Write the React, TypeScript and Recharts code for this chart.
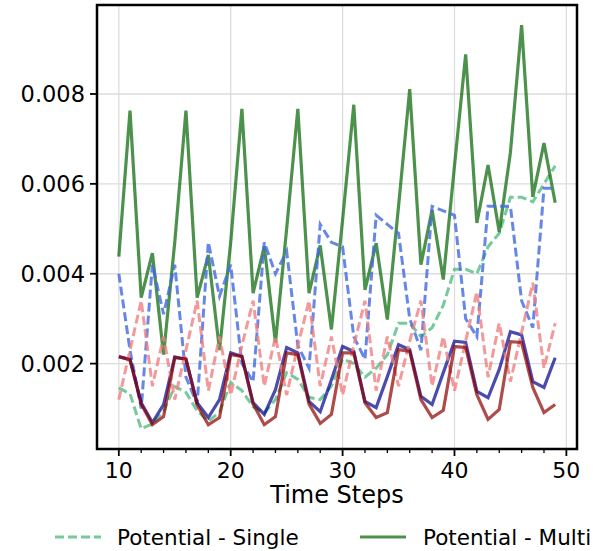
import React from "react";
import {
  LineChart,
  Line,
  XAxis,
  YAxis,
  CartesianGrid,
  ReferenceArea,
} from "recharts";

// Time steps on the x axis
const steps = [
  10, 11, 12, 13, 14, 15, 16, 17, 18, 19,
  20, 21, 22, 23, 24, 25, 26, 27, 28, 29,
  30, 31, 32, 33, 34, 35, 36, 37, 38, 39,
  40, 41, 42, 43, 44, 45, 46, 47, 48, 49,
];

// Potential - Single (green, dashed)
const potentialSingle = [
  0.00146, 0.00133, 0.00055, 0.00066, 0.00094, 0.00149, 0.00136, 0.00095, 0.00072, 0.00092,
  0.00158, 0.0014, 0.00104, 0.0009, 0.0012, 0.0018, 0.00165, 0.00125, 0.0012, 0.0015,
  0.0021, 0.002, 0.0017, 0.0019, 0.0022, 0.0029, 0.0029, 0.0026, 0.0028, 0.0033,
  0.0041, 0.0041, 0.004, 0.0046, 0.0049, 0.0057, 0.0057, 0.0056, 0.006, 0.0064,
];

// Potential - Multi (green, solid)
const potentialMulti = [
  0.00438, 0.00763, 0.00347, 0.00446, 0.0022, 0.0047, 0.00763, 0.00347, 0.00442, 0.0023,
  0.0047, 0.00767, 0.00357, 0.00461, 0.00247, 0.005, 0.00767, 0.00357, 0.00463, 0.00276,
  0.0052, 0.00776, 0.00364, 0.00468, 0.00298, 0.0055, 0.00811, 0.0042, 0.00542, 0.00387,
  0.0064, 0.00888, 0.00513, 0.00642, 0.00493, 0.0067, 0.00953, 0.00571, 0.00691, 0.00558,
];

// Blue series, dashed
const blueSingle = [
  0.004, 0.0023, 0.001, 0.0042, 0.0031, 0.0042, 0.0017, 0.0011, 0.0047, 0.0035,
  0.0042, 0.002, 0.0016, 0.0047, 0.004, 0.0045, 0.0024, 0.0019, 0.0051, 0.0047,
  0.0046, 0.0026, 0.0021, 0.0053, 0.0051, 0.0049, 0.003, 0.0023, 0.0055, 0.0054,
  0.0053, 0.003, 0.0026, 0.0055, 0.0055, 0.0055, 0.0034, 0.0028, 0.0059, 0.0059,
];

// Blue series, solid
const blueMulti = [
  0.00216, 0.00209, 0.00113, 0.00069, 0.00109, 0.00215, 0.00209, 0.00113, 0.0008, 0.0012,
  0.00224, 0.00216, 0.00113, 0.00087, 0.00142, 0.00236, 0.00224, 0.00116, 0.00093, 0.00164,
  0.00238, 0.00227, 0.00116, 0.00102, 0.00171, 0.00242, 0.00231, 0.00127, 0.00109, 0.0018,
  0.0025, 0.00247, 0.00138, 0.00124, 0.00187, 0.00271, 0.00264, 0.0016, 0.00147, 0.00213,
];

// Red series, dashed
const redSingle = [
  0.0012, 0.0023, 0.0034, 0.0015, 0.0026, 0.0012, 0.0023, 0.0034, 0.0014, 0.0026,
  0.0013, 0.0024, 0.0034, 0.0015, 0.0026, 0.0013, 0.0024, 0.0034, 0.0015, 0.0026,
  0.0013, 0.0024, 0.0034, 0.0014, 0.0026, 0.0015, 0.0025, 0.0034, 0.0015, 0.0026,
  0.0014, 0.0025, 0.0036, 0.0017, 0.0029, 0.0016, 0.0027, 0.0038, 0.0019, 0.0029,
];

// Red series, solid
const redMulti = [
  0.00215, 0.00209, 0.0011, 0.00064, 0.00082, 0.00213, 0.00211, 0.00108, 0.00064, 0.0008,
  0.0022, 0.00216, 0.0011, 0.00064, 0.00082, 0.00224, 0.0022, 0.0011, 0.00067, 0.00087,
  0.00224, 0.00224, 0.00113, 0.0008, 0.00091, 0.00231, 0.00227, 0.0012, 0.0008, 0.00096,
  0.00238, 0.00236, 0.00131, 0.00076, 0.00098, 0.00249, 0.00247, 0.00147, 0.00091, 0.00109,
];

const xMajorTicks = [10, 20, 30, 40, 50];
const xMinorTicks = [
  10, 12, 14, 16, 18, 20, 22, 24, 26, 28, 30, 32, 34, 36, 38, 40, 42, 44, 46, 48, 50,
];
const yTicks = [0.002, 0.004, 0.006, 0.008];
const xDomain: [number, number] = [8.05, 50.95];
const yDomain: [number, number] = [0.0001, 0.00998];

const legendItems = [
  { label: "Potential - Single", color: "rgba(60,179,113,0.7)", dash: "9 4" },
  { label: "Potential - Multi", color: "rgba(0,100,0,0.7)", dash: undefined },
];

const data = steps.map((step, i) => ({
  step,
  potentialSingle: potentialSingle[i],
  potentialMulti: potentialMulti[i],
  blueSingle: blueSingle[i],
  blueMulti: blueMulti[i],
  redSingle: redSingle[i],
  redMulti: redMulti[i],
}));

const FONT = "'DejaVu Sans', sans-serif";

const XTick = (props: any) => {
  const { x, y, payload } = props;
  const major = xMajorTicks.includes(payload.value);
  return (
    <g>
      <line
        x1={x}
        x2={x}
        y1={y}
        y2={y + (major ? 7 : 4)}
        stroke="#000"
        strokeWidth={major ? 1.8 : 1.3}
      />
      {major && (
        <text
          x={x}
          y={y + 29}
          textAnchor="middle"
          fontSize={22}
          fontFamily={FONT}
          fill="#000"
        >
          {payload.value}
        </text>
      )}
    </g>
  );
};

const YTick = (props: any) => {
  const { x, y, payload } = props;
  return (
    <g>
      <line x1={x - 7} x2={x} y1={y} y2={y} stroke="#000" strokeWidth={1.8} />
      <text
        x={x - 12}
        y={y + 8}
        textAnchor="end"
        fontSize={22.5}
        fontFamily={FONT}
        fill="#000"
      >
        {Number(payload.value).toFixed(3)}
      </text>
    </g>
  );
};

const LegendRow = () => {
  const slots = [
    { lineX: 55, textX: 117 },
    { lineX: 360, textX: 423 },
  ];
  return (
    <svg
      width={593}
      height={551}
      style={{ position: "absolute", left: 0, top: 0, pointerEvents: "none" }}
    >
      {legendItems.map((item, i) => (
        <g key={item.label}>
          <line
            x1={slots[i].lineX}
            x2={slots[i].lineX + 46}
            y1={537}
            y2={537}
            stroke={item.color}
            strokeWidth={3}
            strokeDasharray={item.dash}
          />
          <text
            x={slots[i].textX}
            y={545}
            fontSize={21.5}
            fontFamily={FONT}
            fill="#000"
          >
            {item.label}
          </text>
        </g>
      ))}
    </svg>
  );
};

export default function App() {
  return (
    <div
      style={{
        position: "absolute",
        left: 0,
        top: 0,
        width: 593,
        height: 551,
        overflow: "hidden",
        background: "#fff",
      }}
    >
      <LineChart
        width={593}
        height={551}
        data={data}
        margin={{ top: 5, right: 16, bottom: 72, left: 17 }}
      >
        <CartesianGrid
          stroke="#dcdcdc"
          strokeWidth={1.3}
          verticalValues={xMajorTicks}
          horizontalValues={yTicks}
        />
        <XAxis
          dataKey="step"
          type="number"
          domain={xDomain}
          ticks={xMinorTicks}
          interval={0}
          allowDataOverflow
          axisLine={false}
          tickLine={false}
          tickSize={0}
          tickMargin={0}
          height={30}
          tick={<XTick />}
          label={{
            value: "Time Steps",
            position: "bottom",
            offset: 7,
            fontSize: 24,
            fontFamily: FONT,
            fill: "#000",
          }}
        />
        <YAxis
          type="number"
          domain={yDomain}
          ticks={yTicks}
          interval={0}
          allowDataOverflow
          axisLine={false}
          tickLine={false}
          tickSize={0}
          tickMargin={0}
          width={80}
          tick={<YTick />}
        />
        <Line
          dataKey="potentialSingle"
          stroke="rgba(60,179,113,0.7)"
          strokeWidth={3}
          strokeDasharray="9 4"
          dot={false}
          isAnimationActive={false}
        />
        <Line
          dataKey="potentialMulti"
          stroke="rgba(0,100,0,0.7)"
          strokeWidth={3.2}
          dot={false}
          isAnimationActive={false}
        />
        <Line
          dataKey="blueSingle"
          stroke="rgba(65,105,225,0.8)"
          strokeWidth={3}
          strokeDasharray="9 4"
          dot={false}
          isAnimationActive={false}
        />
        <Line
          dataKey="blueMulti"
          stroke="rgba(0,0,139,0.7)"
          strokeWidth={3.2}
          dot={false}
          isAnimationActive={false}
        />
        <Line
          dataKey="redSingle"
          stroke="rgba(240,128,128,0.8)"
          strokeWidth={3}
          strokeDasharray="9 4"
          dot={false}
          isAnimationActive={false}
        />
        <Line
          dataKey="redMulti"
          stroke="rgba(139,0,0,0.7)"
          strokeWidth={3.2}
          dot={false}
          isAnimationActive={false}
        />
        <ReferenceArea
          x1={xDomain[0]}
          x2={xDomain[1]}
          y1={yDomain[0]}
          y2={yDomain[1]}
          fill="none"
          fillOpacity={0}
          stroke="#000"
          strokeWidth={2.5}
          ifOverflow="visible"
        />
      </LineChart>
      <LegendRow />
    </div>
  );
}
